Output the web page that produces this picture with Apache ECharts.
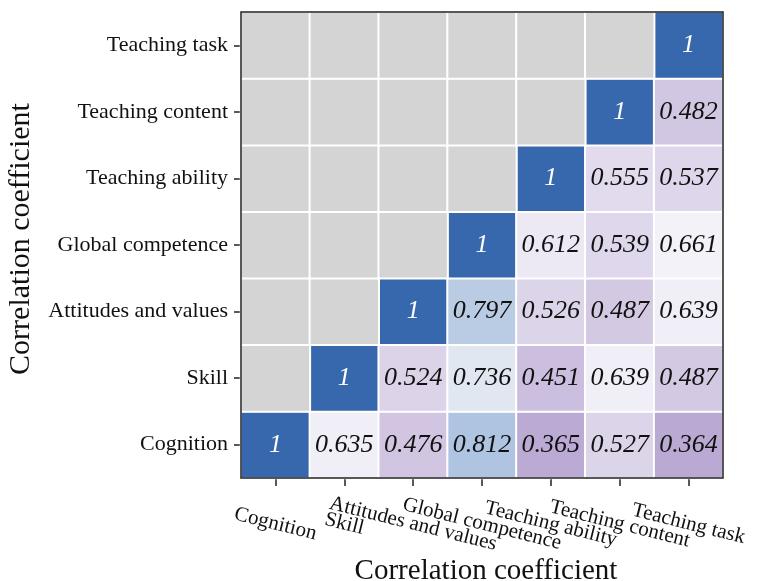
<!DOCTYPE html>
<html>
<head>
<meta charset="utf-8">
<script src="https://cdn.jsdelivr.net/npm/echarts@6/dist/echarts.min.js"></script>
<style>html,body{margin:0;padding:0;background:#fff;}#c{width:758px;height:581px;}</style>
</head>
<body>
<div id="c"></div>
<script>
var categories = ['Cognition', 'Skill', 'Attitudes and values', 'Global competence', 'Teaching ability', 'Teaching content', 'Teaching task'];
// rows from bottom (Cognition) to top (Teaching task); null = masked (grey) cell
var rowCognition = [1, 0.635, 0.476, 0.812, 0.365, 0.527, 0.364];
var rowSkill = [null, 1, 0.524, 0.736, 0.451, 0.639, 0.487];
var rowAttitudes = [null, null, 1, 0.797, 0.526, 0.487, 0.639];
var rowGlobal = [null, null, null, 1, 0.612, 0.539, 0.661];
var rowAbility = [null, null, null, null, 1, 0.555, 0.537];
var rowContent = [null, null, null, null, null, 1, 0.482];
var rowTask = [null, null, null, null, null, null, 1];
var rows = [rowCognition, rowSkill, rowAttitudes, rowGlobal, rowAbility, rowContent, rowTask];
var axisTitle = 'Correlation coefficient';

var valueData = [], maskData = [];
rows.forEach(function (row, y) {
  row.forEach(function (v, x) {
    if (v === null) {
      maskData.push([x, y, 0]);
    } else {
      valueData.push({ value: [x, y, v], label: { color: v === 1 ? '#ffffff' : '#111111' } });
    }
  });
});

var serif = '"Liberation Serif", "Times New Roman", serif';
var chart = echarts.init(document.getElementById('c'), null, { renderer: 'canvas' });
chart.setOption({
  animation: false,
  backgroundColor: '#ffffff',
  grid: { left: 241, right: 35, top: 12, bottom: 103, outerBoundsMode: 'none', containLabel: false, show: true, borderColor: '#222', borderWidth: 1.5, backgroundColor: 'transparent', z: 10 },
  xAxis: {
    type: 'category', data: categories,
    name: axisTitle, nameLocation: 'middle', nameGap: 79, nameMoveOverlap: false,
    nameTextStyle: { fontFamily: serif, fontSize: 29, color: '#111', padding: [0, 0, 0, 8] },
    axisLine: { show: true, lineStyle: { color: '#222', width: 1.5 } },
    axisTick: { show: true, alignWithLabel: true, length: 8, lineStyle: { color: '#222', width: 1.5 } },
    axisLabel: { fontFamily: serif, fontSize: 21, color: '#111', rotate: -14, align: 'center', verticalAlign: 'middle', margin: 46, interval: 0 },
    splitLine: { show: false }
  },
  yAxis: {
    type: 'category', data: categories,
    name: axisTitle, nameLocation: 'middle', nameGap: 205, nameRotate: 90, nameMoveOverlap: false,
    nameTextStyle: { fontFamily: serif, fontSize: 30, color: '#111', padding: [0, 0, 0, 12] },
    axisLine: { show: true, lineStyle: { color: '#222', width: 1.5 } },
    axisTick: { show: true, alignWithLabel: true, length: 7, lineStyle: { color: '#222', width: 1.5 } },
    axisLabel: { fontFamily: serif, fontSize: 22, color: '#111', margin: 13, interval: 0 },
    splitLine: { show: false }
  },
  visualMap: {
    show: false, type: 'continuous', seriesIndex: 0, dimension: 2,
    min: 0.36, max: 1,
    inRange: { color: ['#b9a9d3', '#c8bbdc', '#dbd2e8', '#ebe7f3', '#f6f6f9', '#d6e0ee', '#9ab5d8', '#6a8fc3', '#3767ad'] }
  },
  series: [
    {
      type: 'heatmap', data: valueData,
      itemStyle: { borderColor: '#ffffff', borderWidth: 2 },
      label: {
        show: true, fontFamily: serif, fontStyle: 'italic', fontSize: 26,
        formatter: function (p) { var v = p.value[2]; return v === 1 ? '1' : v.toFixed(3); }
      }
    },
    {
      type: 'heatmap', data: maskData,
      itemStyle: { color: '#d4d4d4', borderColor: '#ffffff', borderWidth: 2 },
      label: { show: false }
    }
  ]
});
</script>
</body>
</html>
